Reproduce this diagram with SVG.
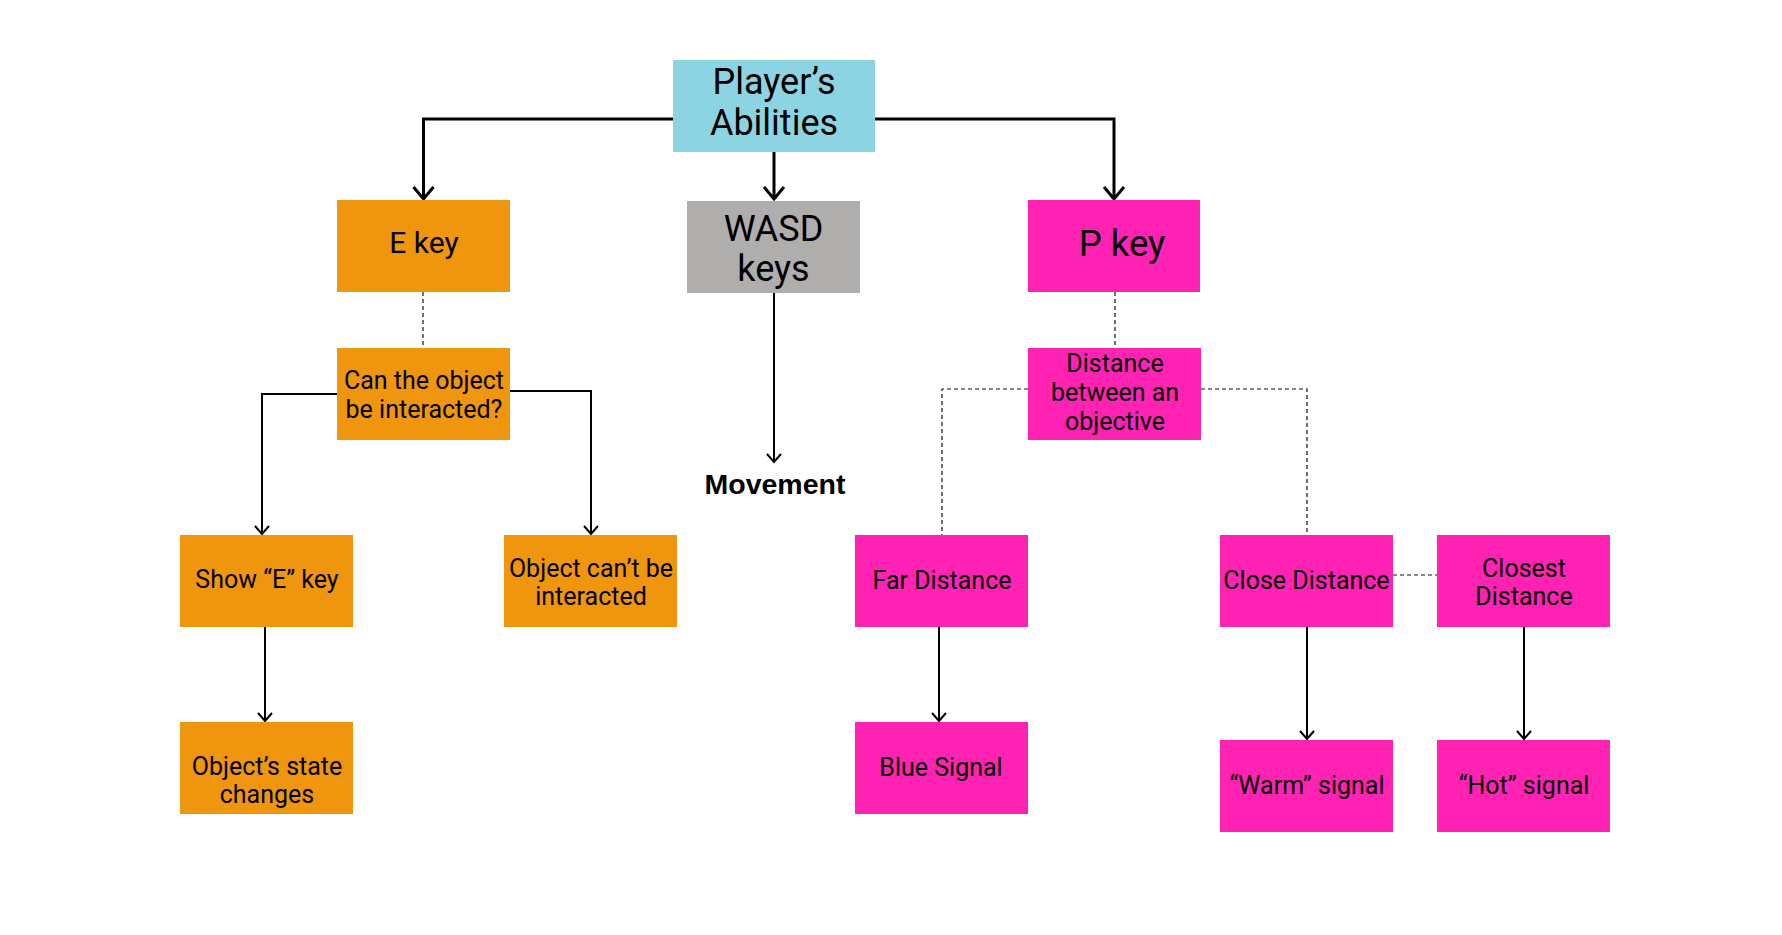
<svg xmlns="http://www.w3.org/2000/svg" width="1782" height="935" viewBox="0 0 1782 935">
<style>
.bg{fill:#ffffff}
.blue{fill:#8dd4e2}
.orange{fill:#f0950e}
.gray{fill:#b0adad}
.pink{fill:#ff22b3}
.t{font-family:Roboto,"Liberation Sans",sans-serif;fill:#000;text-anchor:middle}
.t24{font-size:25px}
.t28{font-size:30px}
.t34{font-size:36px}
.tp{font-size:36.5px}
.mv{font-family:"Liberation Sans",Arial,sans-serif;font-weight:bold;font-size:28.5px;fill:#000;text-anchor:middle}
.c3{fill:none;stroke:#000;stroke-width:3}
.c2{fill:none;stroke:#000;stroke-width:2}
.d{fill:none;stroke:#111;stroke-width:1.2;stroke-dasharray:4 3}
</style>
<defs>
<marker id="ab" markerUnits="userSpaceOnUse" markerWidth="30" markerHeight="30" refX="0" refY="0" orient="auto" overflow="visible" viewBox="-15 -15 30 30">
<path d="M-12,-10 L0,0 L-12,10" fill="none" stroke="#000" stroke-width="3"/>
</marker>
<marker id="as" markerUnits="userSpaceOnUse" markerWidth="20" markerHeight="20" refX="0" refY="0" orient="auto" overflow="visible" viewBox="-10 -10 20 20">
<path d="M-8,-7 L0,0 L-8,7" fill="none" stroke="#000" stroke-width="2"/>
</marker>
</defs>
<rect class="bg" x="0" y="0" width="1782" height="935"/>
<g id="connectors">
<polyline class="c3" points="673,119 423.5,119 423.5,199" marker-end="url(#ab)"/>
<polyline class="c3" points="774,152 774,199" marker-end="url(#ab)"/>
<polyline class="c3" points="875,119 1114,119 1114,199" marker-end="url(#ab)"/>
<polyline class="c2" points="774,293 774,462" marker-end="url(#as)"/>
<polyline class="d" points="423,292 423,348"/>
<polyline class="c2" points="337,394 262,394 262,534" marker-end="url(#as)"/>
<polyline class="c2" points="510,391 591,391 591,534" marker-end="url(#as)"/>
<polyline class="c2" points="265,627 265,721" marker-end="url(#as)"/>
<polyline class="d" points="1115,292 1115,348"/>
<polyline class="d" points="1028,389 942,389 942,535"/>
<polyline class="d" points="1201,389 1307,389 1307,535"/>
<polyline class="c2" points="939,627 939,721" marker-end="url(#as)"/>
<polyline class="c2" points="1307,627 1307,739" marker-end="url(#as)"/>
<polyline class="c2" points="1524,627 1524,739" marker-end="url(#as)"/>
<polyline class="d" points="1393,575 1437,575"/>
</g>
<g id="players-abilities">
<rect class="blue" x="673" y="60" width="202" height="92"/>
<text class="t t34" x="774" y="94">Player’s</text>
<text class="t t34" x="774" y="135">Abilities</text>
</g>
<g id="e-key">
<rect class="orange" x="337" y="200" width="173" height="92"/>
<text class="t t28" x="424" y="253">E key</text>
</g>
<g id="wasd-keys">
<rect class="gray" x="687" y="201" width="173" height="92"/>
<text class="t t34" x="773.5" y="241">WASD</text>
<text class="t t34" x="773.5" y="281">keys</text>
</g>
<g id="p-key">
<rect class="pink" x="1028" y="200" width="172" height="92"/>
<text class="t tp" x="1122" y="256">P key</text>
</g>
<g id="movement">
<text class="mv" x="775" y="494">Movement</text>
</g>
<g id="can-interact">
<rect class="orange" x="337" y="348" width="173" height="92"/>
<text class="t t24" x="424" y="389">Can the object</text>
<text class="t t24" x="424" y="418">be interacted?</text>
</g>
<g id="show-e-key">
<rect class="orange" x="180" y="535" width="173" height="92"/>
<text class="t t24" x="267" y="588">Show “E” key</text>
</g>
<g id="cant-interact">
<rect class="orange" x="504" y="535" width="173" height="92"/>
<text class="t t24" x="591" y="577">Object can’t be</text>
<text class="t t24" x="591" y="605">interacted</text>
</g>
<g id="state-changes">
<rect class="orange" x="180" y="722" width="173" height="92"/>
<text class="t t24" x="267" y="775">Object’s state</text>
<text class="t t24" x="267" y="803">changes</text>
</g>
<g id="distance">
<rect class="pink" x="1028" y="348" width="173" height="92"/>
<text class="t t24" x="1115" y="372">Distance</text>
<text class="t t24" x="1115" y="401">between an</text>
<text class="t t24" x="1115" y="430">objective</text>
</g>
<g id="far-distance">
<rect class="pink" x="855" y="535" width="173" height="92"/>
<text class="t t24" x="942" y="589">Far Distance</text>
</g>
<g id="close-distance">
<rect class="pink" x="1220" y="535" width="173" height="92"/>
<text class="t t24" x="1306.5" y="589">Close Distance</text>
</g>
<g id="closest-distance">
<rect class="pink" x="1437" y="535" width="173" height="92"/>
<text class="t t24" x="1524" y="577">Closest</text>
<text class="t t24" x="1524" y="605">Distance</text>
</g>
<g id="blue-signal">
<rect class="pink" x="855" y="722" width="173" height="92"/>
<text class="t t24" x="941" y="776">Blue Signal</text>
</g>
<g id="warm-signal">
<rect class="pink" x="1220" y="740" width="173" height="92"/>
<text class="t t24" x="1307" y="794">“Warm” signal</text>
</g>
<g id="hot-signal">
<rect class="pink" x="1437" y="740" width="173" height="92"/>
<text class="t t24" x="1524" y="794">“Hot” signal</text>
</g>
</svg>
